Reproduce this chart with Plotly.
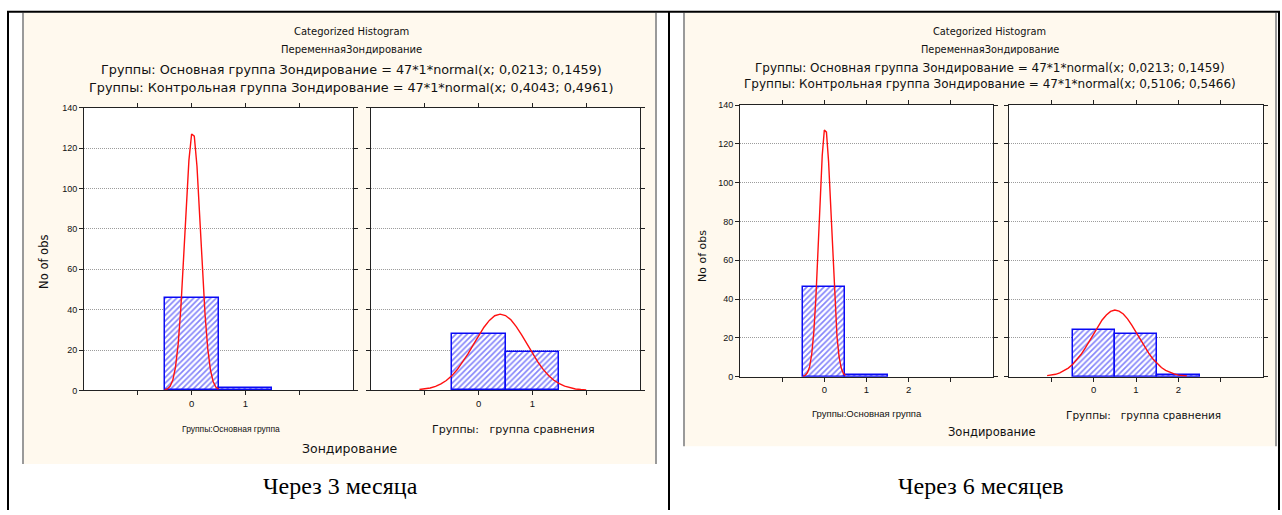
import plotly.graph_objects as go

W, H = 1282, 515

# ---------------- data ----------------
main_cats = [0, 1]
main_counts_3m = [46, 1]
ctrl_cats_3m = [0, 1]
ctrl_counts_3m = [28, 19]

main_counts_6m = [46, 1]
ctrl_cats_6m = [0, 1, 2]
ctrl_counts_6m = [24, 22, 1]

# fitted normal curves
main_curve_x = [-0.50, -0.45, -0.40, -0.35, -0.30, -0.25, -0.20, -0.15, -0.10, -0.05,
                0.00, 0.05, 0.10, 0.15, 0.20, 0.25, 0.30, 0.35, 0.40, 0.45, 0.50]
main_curve_y = [0.2, 0.7, 2.0, 5.0, 11.4, 22.8, 40.7, 64.5, 91.0, 114.0,
                127.1, 126.0, 111.1, 87.1, 60.7, 37.6, 20.7, 10.2, 4.4, 1.7, 0.6]

ctrl_curve_x_3m = [-1.1, -1.0, -0.9, -0.8, -0.7, -0.6, -0.5, -0.4, -0.3, -0.2, -0.1,
                   0.0, 0.1, 0.2, 0.3, 0.4, 0.5, 0.6, 0.7, 0.8, 0.9, 1.0, 1.1, 1.2,
                   1.3, 1.4, 1.5, 1.6, 1.7, 1.8, 1.9, 2.0]
ctrl_curve_y_3m = [0.4, 0.7, 1.2, 2.0, 3.2, 4.9, 7.2, 10.2, 13.8, 18.0, 22.5,
                   27.1, 31.3, 34.7, 37.0, 37.8, 37.1, 35.0, 31.6, 27.5, 22.9, 18.4, 14.1, 10.4,
                   7.4, 5.0, 3.3, 2.1, 1.3, 0.7, 0.4, 0.2]

ctrl_curve_x_6m = [-1.1, -1.0, -0.9, -0.8, -0.7, -0.6, -0.5, -0.4, -0.3, -0.2, -0.1,
                   0.0, 0.1, 0.2, 0.3, 0.4, 0.5, 0.6, 0.7, 0.8, 0.9, 1.0, 1.1, 1.2,
                   1.3, 1.4, 1.5, 1.6, 1.7, 1.8, 1.9, 2.0, 2.1, 2.2]
ctrl_curve_y_6m = [0.5, 0.8, 1.2, 1.9, 3.0, 4.4, 6.2, 8.6, 11.4, 14.7, 18.4,
                   22.2, 25.9, 29.2, 31.8, 33.6, 34.3, 33.8, 32.3, 29.8, 26.6, 23.0, 19.2, 15.5,
                   12.1, 9.1, 6.7, 4.7, 3.2, 2.1, 1.4, 0.8, 0.5, 0.3]

y_ticks = [0, 20, 40, 60, 80, 100, 120, 140]
x_ticks_3m = [-1, 0, 1, 2]
x_ticktext_3m = ["", "0", "1", ""]
x_ticks_6m = [-1, 0, 1, 2, 3]
x_ticktext_6m = ["", "0", "1", "2", ""]

title_lines_3m = ["Categorized Histogram", "ПеременнаяЗондирование",
                  "Группы: Основная группа Зондирование = 47*1*normal(x; 0,0213; 0,1459)",
                  "Группы: Контрольная группа Зондирование = 47*1*normal(x; 0,4043; 0,4961)"]
title_lines_6m = ["Categorized Histogram", "ПеременнаяЗондирование",
                  "Группы: Основная группа Зондирование = 47*1*normal(x; 0,0213; 0,1459)",
                  "Группы: Контрольная группа Зондирование = 47*1*normal(x; 0,5106; 0,5466)"]
group_labels = ["Группы:Основная группа", "Группы:   группа сравнения"]
var_label = "Зондирование"
y_label = "No of obs"
captions = ["Через 3 месяца", "Через 6 месяцев"]

# ---------------- helpers ----------------
def px(x):
    return x / W

def py(y):
    return 1 - y / H

BEIGE = "#FFF9EE"
BLUE = "#0A0AF5"
RED = "#FF1010"
SANS = "Liberation Sans, Arial, sans-serif"
WIDE = "DejaVu Sans, Verdana, sans-serif"
SERIF = "Liberation Serif, Times New Roman, serif"

fig = go.Figure()

# plot areas in pixels: (x0, x1, y_top, y_bottom)
areas = [
    (84, 353, 105, 393),
    (371, 640, 105, 393),
    (740, 993, 102, 379),
    (1009, 1263, 102, 379),
]

def bar_trace(x, y, n):
    return go.Bar(
        x=x, y=y, width=1, xaxis=f"x{n}", yaxis=f"y{n}",
        marker=dict(color="white", line=dict(color=BLUE, width=1.5),
                    pattern=dict(shape="/", fgcolor=BLUE, bgcolor="white", size=4, solidity=0.42)),
        showlegend=False, hoverinfo="skip")

def curve_trace(x, y, n):
    return go.Scatter(x=x, y=y, mode="lines", xaxis=f"x{n}", yaxis=f"y{n}",
                      line=dict(color=RED, width=1.4), showlegend=False, hoverinfo="skip")

fig.add_trace(bar_trace(main_cats, main_counts_3m, ""))
fig.add_trace(curve_trace(main_curve_x, main_curve_y, ""))
fig.add_trace(bar_trace(ctrl_cats_3m, ctrl_counts_3m, 2))
fig.add_trace(curve_trace(ctrl_curve_x_3m, ctrl_curve_y_3m, 2))
fig.add_trace(bar_trace(main_cats, main_counts_6m, 3))
fig.add_trace(curve_trace(main_curve_x, main_curve_y, 3))
fig.add_trace(bar_trace(ctrl_cats_6m, ctrl_counts_6m, 4))
fig.add_trace(curve_trace(ctrl_curve_x_6m, ctrl_curve_y_6m, 4))

layout = dict(
    width=W, height=H, margin=dict(l=0, r=0, t=0, b=0),
    paper_bgcolor="white", plot_bgcolor="rgba(0,0,0,0)",
    barmode="overlay", bargap=0,
    font=dict(family=SANS, color="#111"),
)

for i, (x0, x1, yt, yb) in enumerate(areas):
    n = "" if i == 0 else str(i + 1)
    is_3m = i < 2
    xr = [-2, 3] if is_3m else [-2, 4]
    layout[f"xaxis{n}"] = dict(
        domain=[px(x0), px(x1)], range=xr, anchor=f"y{n}",
        tickvals=x_ticks_3m if is_3m else x_ticks_6m,
        ticktext=x_ticktext_3m if is_3m else x_ticktext_6m,
        ticks="outside", ticklen=4, tickcolor="#222", mirror="ticks",
        showline=True, linecolor="#222", linewidth=1, showgrid=False, zeroline=False,
        tickfont=dict(size=9.5, family=SANS), fixedrange=True,
    )
    layout[f"yaxis{n}"] = dict(
        domain=[py(yb), py(yt)], range=[0, 140], anchor=f"x{n}",
        tickvals=y_ticks, ticks="outside", ticklen=4, tickcolor="#222", mirror="ticks",
        showline=True, linecolor="#222", linewidth=1,
        showgrid=True, gridcolor="#9C9C9C", griddash="1px,1px", gridwidth=1, zeroline=False,
        showticklabels=(i % 2 == 0), tickfont=dict(size=9, family=SANS), fixedrange=True,
    )

shapes = []
def rect(x0, x1, y0, y1, fill, line_color=None, lw=0):
    shapes.append(dict(type="rect", xref="paper", yref="paper", layer="below",
                       x0=px(x0), x1=px(x1), y0=py(y1), y1=py(y0),
                       fillcolor=fill, line=dict(width=lw, color=line_color or fill)))

def line(x0, y0, x1, y1, color, w):
    shapes.append(dict(type="line", xref="paper", yref="paper", layer="above",
                       x0=px(x0), x1=px(x1), y0=py(y0), y1=py(y1),
                       line=dict(color=color, width=w)))

# beige screenshot panels
rect(23, 656, 8, 468, BEIGE)
rect(684, 1276, 8, 450, BEIGE)
# white plot areas
for (x0, x1, yt, yb) in areas:
    rect(x0, x1, yt, yb, "white")
# gray panel edges
line(23, 8, 23, 468, "#9A9A9A", 2)
line(656, 8, 656, 468, "#9A9A9A", 2)
line(684, 8, 684, 450, "#9A9A9A", 2)
line(1276, 8, 1276, 450, "#9A9A9A", 2)
# table borders
line(7, 7, 1280, 7, "black", 2)
line(8, 7, 8, 515, "black", 2)
line(669, 7, 669, 515, "black", 2)
line(1279, 7, 1279, 515, "black", 2)
layout["shapes"] = shapes

ann = []
def text(t, x, y, size, family=WIDE, angle=0, color="#111"):
    ann.append(dict(text=t, x=px(x), y=py(y), xref="paper", yref="paper",
                    xanchor="center", yanchor="middle", showarrow=False,
                    textangle=angle, font=dict(size=size, family=family, color=color)))

# panel titles
for t, yy, s in zip(title_lines_3m, [27, 45, 66, 84], [10, 10, 12.8, 12.8]):
    text(t, 351, yy, s)
for t, yy, s in zip(title_lines_6m, [27, 45, 64, 81], [9.8, 9.8, 12, 12]):
    text(t, 990, yy, s)

text(y_label, 44, 262, 11.5, angle=-90)
text(y_label, 702, 256, 11, angle=-90)
text(group_labels[0], 231, 432, 8.5, family=SANS)
text(group_labels[1], 513, 433, 11)
text(group_labels[0], 867, 417, 9.5, family=SANS)
text(group_labels[1], 1143, 418, 10.5)
text(var_label, 350, 452, 12.5)
text(var_label, 992, 435, 11.5)
text(captions[0], 340, 491, 24, family=SERIF, color="black")
text(captions[1], 981, 491, 24, family=SERIF, color="black")
layout["annotations"] = ann

fig.update_layout(**layout)
fig.write_html("out.html", config={"displayModeBar": False},
               post_script="document.body.style.margin='0';document.body.style.overflow='hidden';")
